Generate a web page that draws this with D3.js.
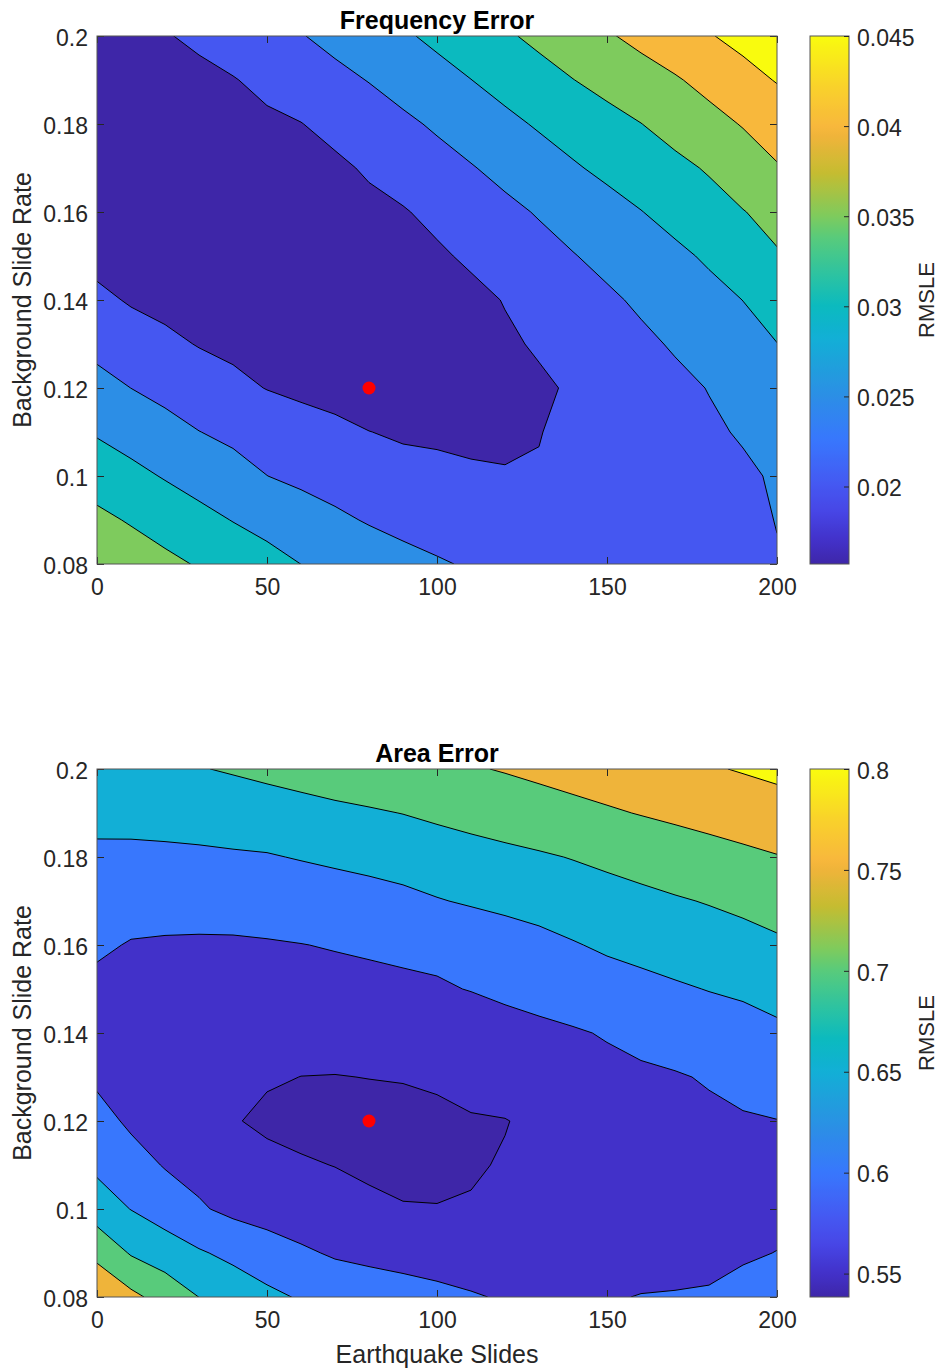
<!DOCTYPE html>
<html>
<head>
<meta charset="utf-8">
<script src="https://cdn.jsdelivr.net/npm/d3@7"></script>
<style>
  body { margin: 0; background: #fff; }
  text { font-family: "Liberation Sans", Arial, Helvetica, sans-serif; }
</style>
</head>
<body>
<svg id="figure" width="941" height="1368"></svg>
<script>
// grid axes (columns = earthquake slides, rows = background slide rate, top row first)
const earthquakeSlides = [0, 10, 20, 30, 40, 50, 60, 70, 80, 90, 100, 110, 120, 130, 140, 150, 160, 170, 180, 190, 200];
const slideRates = [0.2, 0.19, 0.18, 0.17, 0.16, 0.15, 0.14, 0.13, 0.12, 0.11, 0.1, 0.09, 0.08];

const xTicks = [0, 50, 100, 150, 200];
const yTicks = [0.08, 0.1, 0.12, 0.14, 0.16, 0.18, 0.2];
const bestFit = [80, 0.12];

const freqLevels = [0.02, 0.025, 0.03, 0.035, 0.04, 0.045];
const freqLimits = [0.0157, 0.045];
const areaLevels = [0.55, 0.6, 0.65, 0.7, 0.75, 0.8];
const areaLimits = [0.5384, 0.8];

const freqError = [
  [0.01740,0.01850,0.01967,0.02095,0.02223,0.02350,0.02478,0.02628,0.02783,0.02938,0.03101,0.03268,0.03436,0.03607,0.03779,0.03952,0.04124,0.04297,0.04469,0.04641,0.04814],
  [0.01710,0.01730,0.01790,0.01875,0.01977,0.02111,0.02245,0.02379,0.02516,0.02676,0.02835,0.02995,0.03161,0.03326,0.03492,0.03647,0.03801,0.03955,0.04138,0.04333,0.04527],
  [0.01700,0.01710,0.01740,0.01790,0.01850,0.01920,0.01989,0.02130,0.02271,0.02412,0.02562,0.02726,0.02890,0.03049,0.03197,0.03345,0.03493,0.03670,0.03848,0.04027,0.04205],
  [0.01720,0.01700,0.01700,0.01720,0.01760,0.01810,0.01860,0.01915,0.02054,0.02194,0.02333,0.02472,0.02629,0.02790,0.02952,0.03100,0.03244,0.03387,0.03544,0.03755,0.03967],
  [0.01780,0.01700,0.01680,0.01680,0.01700,0.01740,0.01780,0.01830,0.01890,0.01968,0.02109,0.02250,0.02391,0.02535,0.02686,0.02837,0.02988,0.03152,0.03318,0.03483,0.03649],
  [0.01850,0.01760,0.01700,0.01660,0.01620,0.01600,0.01610,0.01650,0.01730,0.01830,0.01935,0.02071,0.02207,0.02343,0.02480,0.02620,0.02762,0.02904,0.03063,0.03261,0.03460],
  [0.02111,0.01955,0.01870,0.01790,0.01720,0.01660,0.01600,0.01575,0.01600,0.01670,0.01770,0.01883,0.02019,0.02155,0.02292,0.02428,0.02568,0.02714,0.02859,0.03004,0.03151],
  [0.02370,0.02236,0.02103,0.01977,0.01900,0.01840,0.01790,0.01760,0.01750,0.01770,0.01810,0.01870,0.01935,0.02046,0.02168,0.02290,0.02412,0.02543,0.02695,0.02848,0.02995],
  [0.02652,0.02498,0.02370,0.02242,0.02113,0.01986,0.01900,0.01840,0.01800,0.01790,0.01800,0.01840,0.01885,0.01935,0.02048,0.02164,0.02280,0.02396,0.02514,0.02657,0.02800],
  [0.02955,0.02806,0.02657,0.02507,0.02406,0.02307,0.02207,0.02108,0.02005,0.01955,0.01960,0.01960,0.01965,0.01990,0.02076,0.02165,0.02255,0.02345,0.02435,0.02540,0.02683],
  [0.03287,0.03127,0.02967,0.02813,0.02658,0.02503,0.02400,0.02300,0.02210,0.02120,0.02060,0.02025,0.02012,0.02020,0.02050,0.02100,0.02160,0.02240,0.02330,0.02430,0.02550],
  [0.03608,0.03459,0.03300,0.03141,0.02985,0.02854,0.02722,0.02590,0.02462,0.02350,0.02260,0.02200,0.02160,0.02135,0.02130,0.02145,0.02180,0.02240,0.02320,0.02410,0.02510],
  [0.03900,0.03755,0.03610,0.03463,0.03309,0.03154,0.02998,0.02888,0.02776,0.02664,0.02553,0.02447,0.02390,0.02340,0.02305,0.02280,0.02270,0.02275,0.02320,0.02390,0.02477]
];

const areaError = [
  [0.6780,0.6846,0.6913,0.6979,0.7042,0.7102,0.7162,0.7223,0.7283,0.7344,0.7404,0.7464,0.7529,0.7601,0.7673,0.7745,0.7817,0.7889,0.7960,0.8032,0.8104],
  [0.6605,0.6610,0.6630,0.6670,0.6730,0.6800,0.6855,0.6910,0.6955,0.7008,0.7081,0.7154,0.7227,0.7300,0.7374,0.7447,0.7520,0.7590,0.7660,0.7730,0.7807],
  [0.6427,0.6425,0.6430,0.6435,0.6450,0.6467,0.6528,0.6589,0.6646,0.6707,0.6768,0.6830,0.6890,0.6950,0.7019,0.7096,0.7173,0.7250,0.7327,0.7404,0.7480],
  [0.6250,0.6200,0.6180,0.6170,0.6170,0.6180,0.6200,0.6250,0.6310,0.6380,0.6475,0.6546,0.6614,0.6682,0.6750,0.6820,0.6890,0.6960,0.7025,0.7090,0.7160],
  [0.6077,0.5970,0.5950,0.5945,0.5950,0.5970,0.5993,0.6021,0.6040,0.6060,0.6100,0.6190,0.6270,0.6360,0.6470,0.6567,0.6640,0.6710,0.6780,0.6860,0.6940],
  [0.5880,0.5850,0.5830,0.5820,0.5820,0.5830,0.5850,0.5880,0.5920,0.5945,0.5958,0.6014,0.6089,0.6160,0.6230,0.6300,0.6370,0.6445,0.6515,0.6560,0.6610],
  [0.5830,0.5790,0.5740,0.5700,0.5670,0.5650,0.5650,0.5630,0.5650,0.5680,0.5730,0.5780,0.5840,0.5900,0.5960,0.6030,0.6100,0.6180,0.6260,0.6350,0.6440],
  [0.5916,0.5850,0.5780,0.5700,0.5620,0.5541,0.5497,0.5492,0.5505,0.5520,0.5567,0.5670,0.5730,0.5790,0.5840,0.5890,0.5940,0.5970,0.6030,0.6130,0.6250],
  [0.6170,0.5920,0.5790,0.5660,0.5530,0.5420,0.5430,0.5415,0.5400,0.5385,0.5400,0.5460,0.5485,0.5590,0.5680,0.5760,0.5830,0.5890,0.5930,0.5960,0.5990],
  [0.6400,0.6190,0.5970,0.5850,0.5730,0.5620,0.5524,0.5495,0.5450,0.5430,0.5430,0.5460,0.5530,0.5590,0.5640,0.5680,0.5710,0.5740,0.5760,0.5780,0.5800],
  [0.6750,0.6489,0.6272,0.6054,0.5890,0.5790,0.5680,0.5600,0.5560,0.5515,0.5510,0.5530,0.5570,0.5610,0.5650,0.5690,0.5730,0.5760,0.5790,0.5820,0.5850],
  [0.7380,0.6959,0.6754,0.6549,0.6385,0.6234,0.6083,0.5940,0.5870,0.5820,0.5780,0.5750,0.5730,0.5720,0.5720,0.5730,0.5760,0.5810,0.5870,0.5940,0.6010],
  [0.7900,0.7616,0.7312,0.6996,0.6799,0.6602,0.6460,0.6375,0.6291,0.6207,0.6123,0.6039,0.5960,0.5930,0.5925,0.5953,0.6020,0.6034,0.6048,0.6160,0.6220]
];

// approximate MATLAB parula colormap
const parulaStops = [
  [0.00, "#3e26a8"], [0.044, "#4231c9"], [0.10, "#4746e6"], [0.147, "#4557f1"],
  [0.235, "#3877fd"], [0.317, "#2c8ee6"], [0.38, "#1ea1db"], [0.426, "#12afd6"],
  [0.488, "#0bbabf"], [0.55, "#2ec3a0"], [0.617, "#57cb7c"], [0.659, "#7ecb5d"],
  [0.74, "#c5bc31"], [0.809, "#efb43a"], [0.829, "#f8b83c"], [0.90, "#f9d02c"],
  [1.00, "#f9fb0e"]
];
const parula = d3.scaleLinear()
  .domain(parulaStops.map(d => d[0]))
  .range(parulaStops.map(d => d[1]))
  .interpolate(d3.interpolateRgb)
  .clamp(true);

const svg = d3.select("#figure");
const defs = svg.append("defs");
const axisColor = "#262626";

function drawPanel(opts) {
  const left = 97, right = 777, top = opts.top, bottom = opts.top + 528;
  const x = d3.scaleLinear().domain([0, 200]).range([left, right]);
  const y = d3.scaleLinear().domain([0.08, 0.2]).range([bottom, top]);
  const cnorm = d3.scaleLinear().domain(opts.limits).range([0, 1]).clamp(true);
  const colorOf = v => parula(cnorm(v));

  defs.append("clipPath").attr("id", opts.id + "-clip")
    .append("rect")
    .attr("x", left).attr("y", top)
    .attr("width", right - left).attr("height", bottom - top);

  const nx = earthquakeSlides.length, ny = slideRates.length;
  const dx = earthquakeSlides[1] - earthquakeSlides[0];
  const dy = slideRates[0] - slideRates[1];
  // d3.contours puts grid value i at coordinate i + 0.5
  const toScreen = d3.geoTransform({
    point(gx, gy) {
      this.stream.point(
        x(earthquakeSlides[0] + (gx - 0.5) * dx),
        y(slideRates[0] - (gy - 0.5) * dy)
      );
    }
  });
  const path = d3.geoPath(toScreen);
  const bands = d3.contours().size([nx, ny]).thresholds(opts.levels)(opts.grid.flat());

  const plot = svg.append("g").attr("clip-path", `url(#${opts.id}-clip)`);
  plot.append("rect")
    .attr("x", left).attr("y", top)
    .attr("width", right - left).attr("height", bottom - top)
    .attr("fill", colorOf(opts.limits[0]));

  plot.selectAll("path.band")
    .data(bands)
    .join("path")
    .attr("class", "band")
    .attr("d", path)
    .attr("fill-rule", "evenodd")
    .attr("fill", d => colorOf(d.value));

  plot.selectAll("path.line")
    .data(bands)
    .join("path")
    .attr("class", "line")
    .attr("d", path)
    .attr("fill", "none")
    .attr("stroke", "#000")
    .attr("stroke-width", 1)
    .attr("stroke-linejoin", "round");

  svg.append("circle")
    .attr("cx", x(bestFit[0]))
    .attr("cy", y(bestFit[1]))
    .attr("r", 6.5)
    .attr("fill", "#ff0000");

  // axes box with inward ticks
  const styleAxis = g => {
    g.select(".domain").remove();
    g.attr("font-size", 23).attr("font-family", null).attr("color", axisColor);
  };
  svg.append("g").attr("transform", `translate(0,${bottom})`)
    .call(d3.axisBottom(x).tickValues(xTicks).tickSizeInner(-7).tickSizeOuter(0).tickPadding(15))
    .call(styleAxis);
  svg.append("g").attr("transform", `translate(0,${top})`)
    .call(d3.axisTop(x).tickValues(xTicks).tickSizeInner(-7).tickSizeOuter(0).tickFormat(""))
    .call(styleAxis);
  svg.append("g").attr("transform", `translate(${left},0)`)
    .call(d3.axisLeft(y).tickValues(yTicks).tickSizeInner(-7).tickSizeOuter(0).tickPadding(9)
      .tickFormat(d3.format("~g")))
    .call(styleAxis)
    .selectAll("text").attr("dy", "0.4em");
  svg.append("g").attr("transform", `translate(${right},0)`)
    .call(d3.axisRight(y).tickValues(yTicks).tickSizeInner(-7).tickSizeOuter(0).tickFormat(""))
    .call(styleAxis);

  svg.append("rect")
    .attr("x", left).attr("y", top)
    .attr("width", right - left).attr("height", bottom - top)
    .attr("fill", "none")
    .attr("stroke", "#555")
    .attr("stroke-width", 1);

  svg.append("text")
    .attr("x", (left + right) / 2)
    .attr("y", top - 7)
    .attr("text-anchor", "middle")
    .attr("font-size", 25)
    .attr("font-weight", "bold")
    .attr("fill", "#000")
    .text(opts.title);

  svg.append("text")
    .attr("transform", `translate(31,${(top + bottom) / 2}) rotate(-90)`)
    .attr("text-anchor", "middle")
    .attr("font-size", 25)
    .attr("fill", axisColor)
    .text("Background Slide Rate");

  if (opts.xLabel) {
    svg.append("text")
      .attr("x", (left + right) / 2)
      .attr("y", bottom + 66)
      .attr("text-anchor", "middle")
      .attr("font-size", 25)
      .attr("fill", axisColor)
      .text(opts.xLabel);
  }

  // colorbar
  const cbX = 810, cbW = 39;
  const cy = d3.scaleLinear().domain(opts.limits).range([bottom, top]);
  const grad = defs.append("linearGradient")
    .attr("id", opts.id + "-grad")
    .attr("x1", 0).attr("y1", 1).attr("x2", 0).attr("y2", 0);
  grad.selectAll("stop")
    .data(d3.range(0, 1.0001, 0.01))
    .join("stop")
    .attr("offset", d => d)
    .attr("stop-color", d => parula(d));

  svg.append("rect")
    .attr("x", cbX).attr("y", top)
    .attr("width", cbW).attr("height", bottom - top)
    .attr("fill", `url(#${opts.id}-grad)`)
    .attr("stroke", "#555")
    .attr("stroke-width", 1);

  svg.append("g").attr("transform", `translate(${cbX + cbW},0)`)
    .call(d3.axisRight(cy).tickValues(opts.levels).tickSizeInner(-5).tickSizeOuter(0).tickPadding(8)
      .tickFormat(d3.format("~g")))
    .call(styleAxis)
    .selectAll("text").attr("dy", "0.4em");

  svg.append("text")
    .attr("transform", `translate(934,${(top + bottom) / 2}) rotate(-90)`)
    .attr("text-anchor", "middle")
    .attr("font-size", 22)
    .attr("fill", axisColor)
    .text("RMSLE");
}

drawPanel({ id: "freq", top: 36, grid: freqError, levels: freqLevels, limits: freqLimits, title: "Frequency Error" });
drawPanel({ id: "area", top: 769, grid: areaError, levels: areaLevels, limits: areaLimits, title: "Area Error", xLabel: "Earthquake Slides" });
</script>
</body>
</html>
